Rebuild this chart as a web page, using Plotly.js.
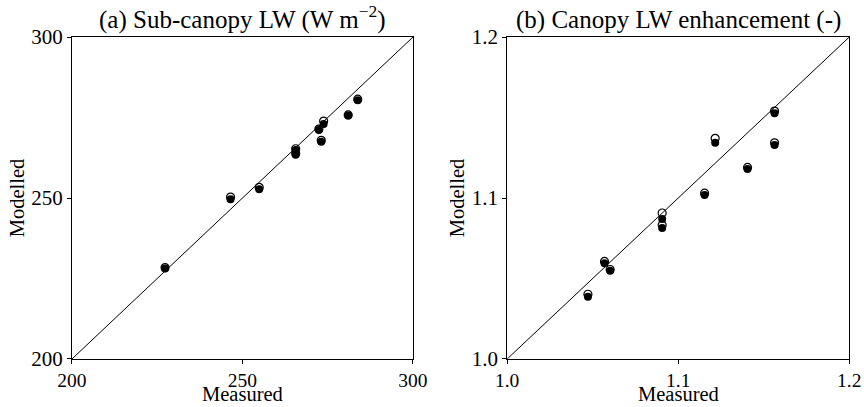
<!DOCTYPE html>
<html>
<head>
<meta charset="utf-8">
<script src="https://cdn.plot.ly/plotly-3.0.1.min.js"></script>
<style>html,body{margin:0;padding:0;background:#fff;}#chart{width:864px;height:407px;}</style>
</head>
<body>
<div id="chart"></div>
<script>
// Panel (a): Sub-canopy LW (W m-2)
const lwMeasured = [227.3, 246.5, 254.9, 265.6, 265.6, 272.4, 273.8, 273.1, 281.0, 283.8];
const lwModelFilled = [228.1, 249.6, 252.7, 264.9, 263.4, 271.1, 273.0, 267.5, 275.6, 280.4];
const lwModelOpen = [228.4, 250.3, 253.3, 265.3, 263.8, 271.4, 273.9, 267.9, 275.8, 280.7];
const lwRange = [200, 300];
const lwTicks = [200, 250, 300];

// Panel (b): Canopy LW enhancement (-)
const enMeasured = [1.0472, 1.0569, 1.0602, 1.0906, 1.0906, 1.1154, 1.1216, 1.1405, 1.1563, 1.1563];
const enModelFilled = [1.0387, 1.0594, 1.0548, 1.0870, 1.0814, 1.1019, 1.1343, 1.1180, 1.1526, 1.1329];
const enModelOpen = [1.0402, 1.0606, 1.0556, 1.0907, 1.0832, 1.1030, 1.1371, 1.1190, 1.1540, 1.1343];
const enRange = [1.0, 1.2];
const enTicks = [1.0, 1.1, 1.2];
const enTickText = ['1.0', '1.1', '1.2'];

const titleA = '(a) Sub-canopy LW (W m<sup>\u22122</sup>)';
const titleB = '(b) Canopy LW enhancement (-)';
const xLabel = 'Measured';
const yLabel = 'Modelled';

const FONT = '"Liberation Serif", "Times New Roman", Times, serif';

const traces = [
  {x: lwRange, y: lwRange, mode: 'lines', line: {color: '#000', width: 1}, xaxis: 'x', yaxis: 'y', hoverinfo: 'skip'},
  {x: lwMeasured, y: lwModelOpen, mode: 'markers', marker: {symbol: 'circle-open', size: 8, color: '#000', line: {width: 1.2, color: '#000'}}, xaxis: 'x', yaxis: 'y'},
  {x: lwMeasured, y: lwModelFilled, mode: 'markers', marker: {symbol: 'circle', size: 8, color: '#000'}, xaxis: 'x', yaxis: 'y'},
  {x: enRange, y: enRange, mode: 'lines', line: {color: '#000', width: 1}, xaxis: 'x2', yaxis: 'y2', hoverinfo: 'skip'},
  {x: enMeasured, y: enModelOpen, mode: 'markers', marker: {symbol: 'circle-open', size: 8, color: '#000', line: {width: 1.2, color: '#000'}}, xaxis: 'x2', yaxis: 'y2'},
  {x: enMeasured, y: enModelFilled, mode: 'markers', marker: {symbol: 'circle', size: 8, color: '#000'}, xaxis: 'x2', yaxis: 'y2'}
];

function ax(domain, range, ticks, ticktext, anchor, title, standoff, fs) {
  const a = {
    domain: domain, range: range, anchor: anchor,
    tickmode: 'array', tickvals: ticks, ticktext: ticktext,
    ticks: 'outside', ticklen: 4, tickwidth: 1, tickcolor: '#000',
    showline: true, mirror: true, linecolor: '#000', linewidth: 1,
    showgrid: false, zeroline: false,
    tickfont: {family: FONT, size: fs, color: '#000'}
  };
  if (title) a.title = {text: title, font: {family: FONT, size: 20.5, color: '#000'}, standoff: standoff};
  return a;
}

const yd = [0.118, 0.909];
const titleFont = {family: FONT, size: 25, color: '#000'};
const xtFont = {family: FONT, size: 20.5, color: '#000'};
const layout = {
  width: 864, height: 407,
  margin: {l: 0, r: 0, t: 0, b: 0},
  paper_bgcolor: '#fff', plot_bgcolor: '#fff',
  showlegend: false,
  font: {family: FONT, color: '#000'},
  xaxis: ax([0.0833, 0.478], lwRange, lwTicks, lwTicks.map(String), 'y', null, 0, 19.5),
  yaxis: ax(yd, lwRange, lwTicks, lwTicks.map(String), 'x', yLabel, 1, 21),
  xaxis2: ax([0.587, 0.983], enRange, enTicks, enTickText, 'y2', null, 0, 19.5),
  yaxis2: ax(yd, enRange, enTicks, enTickText, 'x2', yLabel, 1, 21),
  annotations: [
    {text: titleA, xref: 'x domain', yref: 'y domain', x: 0.5, y: 1, yanchor: 'bottom', xanchor: 'center', yshift: 1, showarrow: false, font: titleFont},
    {text: titleB, xref: 'x2 domain', yref: 'y2 domain', x: 0.5, y: 1, yanchor: 'bottom', xanchor: 'center', yshift: 1, showarrow: false, font: titleFont},
    {text: xLabel, xref: 'x domain', yref: 'paper', x: 0.5, y: 0, yanchor: 'bottom', xanchor: 'center', yshift: 0, showarrow: false, font: xtFont},
    {text: xLabel, xref: 'x2 domain', yref: 'paper', x: 0.5, y: 0, yanchor: 'bottom', xanchor: 'center', yshift: 0, showarrow: false, font: xtFont}
  ]
};

Plotly.newPlot('chart', traces, layout, {displayModeBar: false, staticPlot: true});
</script>
</body>
</html>
